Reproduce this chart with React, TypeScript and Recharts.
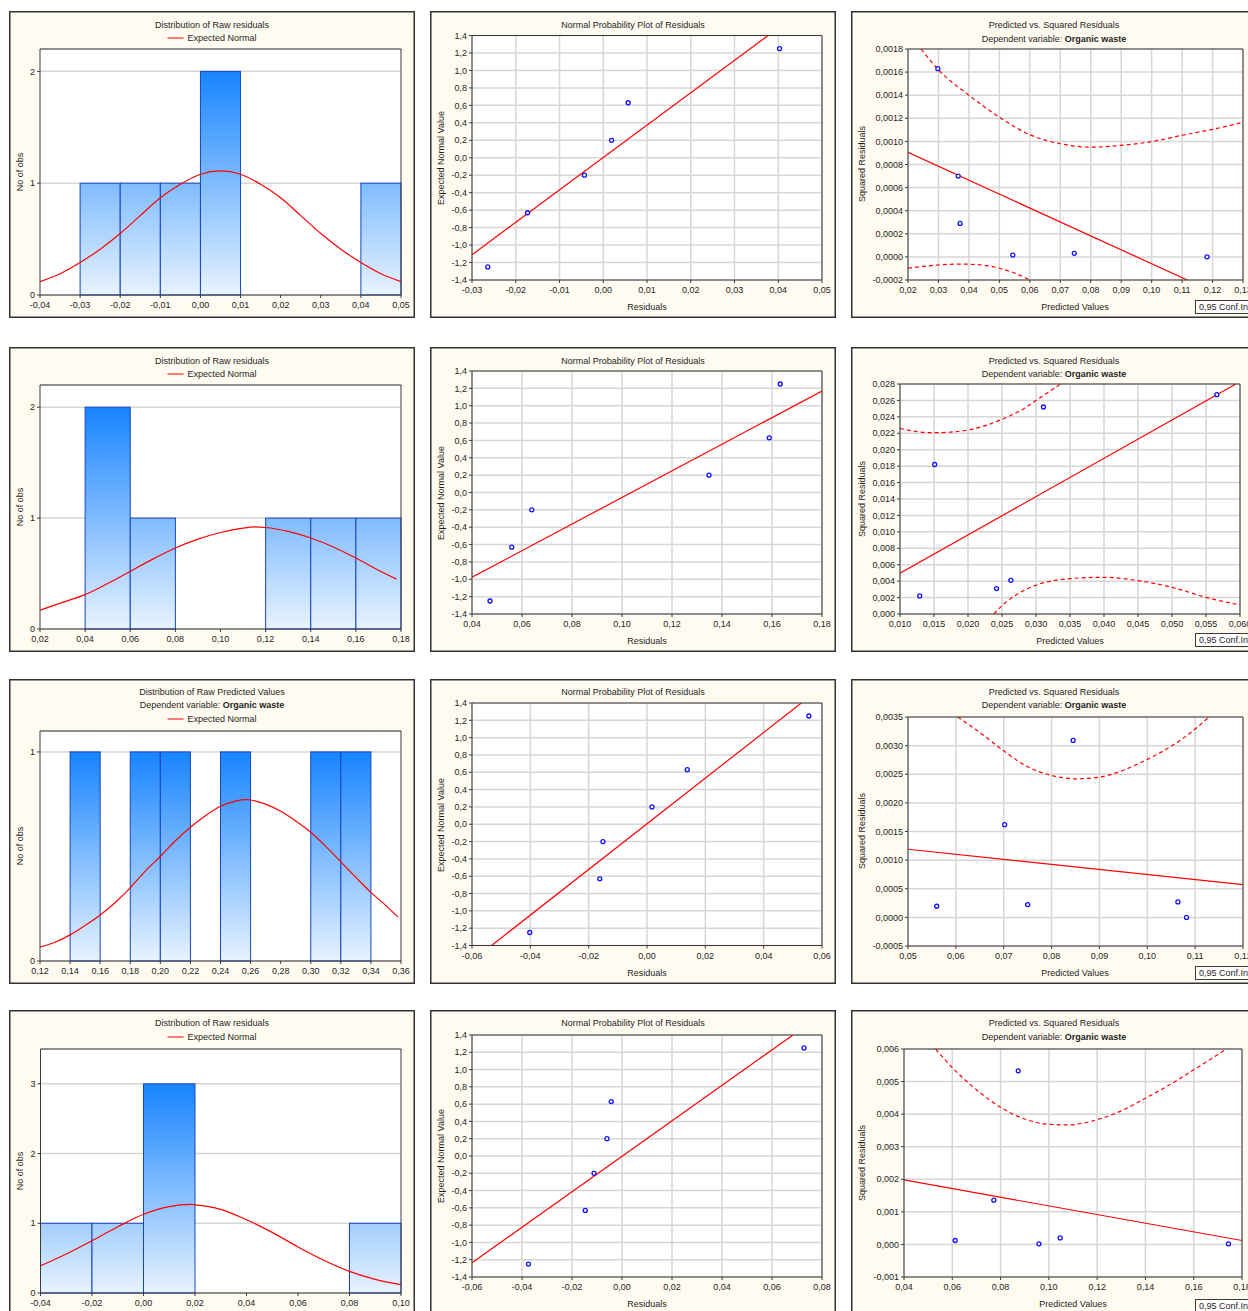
import React from "react";
import { ComposedChart, XAxis, YAxis, CartesianGrid, Line, Scatter, ReferenceArea } from "recharts";

const FONT = '"Liberation Sans", Arial, Helvetica, sans-serif';
const PW = 406;
const CREAM = "#fffbf0";
const RED = "#ff0000";
const GRID = "#d6d6d6";
const AXL = { stroke: "#3a3a3a", strokeWidth: 1 };
const TICK = { fontSize: 9, fill: "#1e1e1e", fontFamily: FONT };

// ---------- histograms (column 1) ----------
const h1Bins = [
  { lo: -0.03, hi: -0.02, n: 1 },
  { lo: -0.02, hi: -0.01, n: 1 },
  { lo: -0.01, hi: 0.0, n: 1 },
  { lo: 0.0, hi: 0.01, n: 2 },
  { lo: 0.04, hi: 0.05, n: 1 },
];
const h1Curve = [
  { x: -0.04, y: 0.12 }, { x: -0.035, y: 0.19 }, { x: -0.03, y: 0.29 }, { x: -0.025, y: 0.41 },
  { x: -0.02, y: 0.55 }, { x: -0.015, y: 0.71 }, { x: -0.01, y: 0.87 }, { x: -0.005, y: 0.99 },
  { x: 0.0, y: 1.08 }, { x: 0.005, y: 1.11 }, { x: 0.01, y: 1.08 }, { x: 0.015, y: 0.99 },
  { x: 0.02, y: 0.87 }, { x: 0.025, y: 0.71 }, { x: 0.03, y: 0.55 }, { x: 0.035, y: 0.41 },
  { x: 0.04, y: 0.29 }, { x: 0.045, y: 0.19 }, { x: 0.05, y: 0.12 },
];
const h1XTicks = [-0.04, -0.03, -0.02, -0.01, 0, 0.01, 0.02, 0.03, 0.04, 0.05];
const h1YTicks = [0, 1, 2];

const h2Bins = [
  { lo: 0.04, hi: 0.06, n: 2 },
  { lo: 0.06, hi: 0.08, n: 1 },
  { lo: 0.12, hi: 0.14, n: 1 },
  { lo: 0.14, hi: 0.16, n: 1 },
  { lo: 0.16, hi: 0.18, n: 1 },
];
const h2Curve = [
  { x: 0.02, y: 0.17 }, { x: 0.03, y: 0.24 }, { x: 0.04, y: 0.31 }, { x: 0.05, y: 0.41 },
  { x: 0.06, y: 0.52 }, { x: 0.07, y: 0.63 }, { x: 0.08, y: 0.73 }, { x: 0.09, y: 0.81 },
  { x: 0.1, y: 0.87 }, { x: 0.11, y: 0.91 }, { x: 0.115, y: 0.92 }, { x: 0.12, y: 0.915 },
  { x: 0.13, y: 0.88 }, { x: 0.14, y: 0.82 }, { x: 0.15, y: 0.74 }, { x: 0.16, y: 0.64 },
  { x: 0.17, y: 0.53 }, { x: 0.178, y: 0.45 },
];
const h2XTicks = [0.02, 0.04, 0.06, 0.08, 0.1, 0.12, 0.14, 0.16, 0.18];
const h2YTicks = [0, 1, 2];

const h3Bins = [
  { lo: 0.14, hi: 0.16, n: 1 },
  { lo: 0.18, hi: 0.2, n: 1 },
  { lo: 0.2, hi: 0.22, n: 1 },
  { lo: 0.24, hi: 0.26, n: 1 },
  { lo: 0.3, hi: 0.32, n: 1 },
  { lo: 0.32, hi: 0.34, n: 1 },
];
const h3Curve = [
  { x: 0.12, y: 0.067 }, { x: 0.13, y: 0.09 }, { x: 0.14, y: 0.125 }, { x: 0.15, y: 0.17 },
  { x: 0.16, y: 0.22 }, { x: 0.17, y: 0.28 }, { x: 0.18, y: 0.35 }, { x: 0.19, y: 0.43 },
  { x: 0.2, y: 0.5 }, { x: 0.21, y: 0.575 }, { x: 0.22, y: 0.64 }, { x: 0.23, y: 0.695 },
  { x: 0.24, y: 0.74 }, { x: 0.25, y: 0.765 }, { x: 0.257, y: 0.772 }, { x: 0.26, y: 0.77 },
  { x: 0.27, y: 0.75 }, { x: 0.28, y: 0.716 }, { x: 0.29, y: 0.67 }, { x: 0.3, y: 0.616 },
  { x: 0.31, y: 0.548 }, { x: 0.32, y: 0.474 }, { x: 0.33, y: 0.4 }, { x: 0.34, y: 0.328 },
  { x: 0.35, y: 0.265 }, { x: 0.358, y: 0.21 },
];
const h3XTicks = [0.12, 0.14, 0.16, 0.18, 0.2, 0.22, 0.24, 0.26, 0.28, 0.3, 0.32, 0.34, 0.36];
const h3YTicks = [0, 1];

const h4Bins = [
  { lo: -0.04, hi: -0.02, n: 1 },
  { lo: -0.02, hi: 0.0, n: 1 },
  { lo: 0.0, hi: 0.02, n: 3 },
  { lo: 0.08, hi: 0.1, n: 1 },
];
const h4Curve = [
  { x: -0.04, y: 0.39 }, { x: -0.03, y: 0.56 }, { x: -0.02, y: 0.75 }, { x: -0.01, y: 0.95 },
  { x: 0.0, y: 1.13 }, { x: 0.01, y: 1.24 }, { x: 0.018, y: 1.27 }, { x: 0.02, y: 1.265 },
  { x: 0.03, y: 1.2 }, { x: 0.04, y: 1.05 }, { x: 0.05, y: 0.87 }, { x: 0.06, y: 0.66 },
  { x: 0.07, y: 0.47 }, { x: 0.08, y: 0.31 }, { x: 0.09, y: 0.195 }, { x: 0.1, y: 0.12 },
];
const h4XTicks = [-0.04, -0.02, 0, 0.02, 0.04, 0.06, 0.08, 0.1];
const h4YTicks = [0, 1, 2, 3];

// ---------- normal probability plots (column 2) ----------
const npYTicks = [-1.4, -1.2, -1.0, -0.8, -0.6, -0.4, -0.2, 0, 0.2, 0.4, 0.6, 0.8, 1.0, 1.2, 1.4];

const n1Points = [
  { x: -0.0264, y: -1.25 }, { x: -0.0173, y: -0.63 }, { x: -0.0043, y: -0.2 },
  { x: 0.0019, y: 0.2 }, { x: 0.0057, y: 0.63 }, { x: 0.0403, y: 1.25 },
];
const n1Fit = [{ x: -0.03, y: -1.11 }, { x: 0.0377, y: 1.4 }];
const n1XTicks = [-0.03, -0.02, -0.01, 0, 0.01, 0.02, 0.03, 0.04, 0.05];

const n2Points = [
  { x: 0.0472, y: -1.25 }, { x: 0.0559, y: -0.63 }, { x: 0.0639, y: -0.2 },
  { x: 0.1348, y: 0.2 }, { x: 0.1589, y: 0.63 }, { x: 0.1633, y: 1.25 },
];
const n2Fit = [{ x: 0.04, y: -0.977 }, { x: 0.18, y: 1.169 }];
const n2XTicks = [0.04, 0.06, 0.08, 0.1, 0.12, 0.14, 0.16, 0.18];

const n3Points = [
  { x: -0.0402, y: -1.25 }, { x: -0.0162, y: -0.63 }, { x: -0.0151, y: -0.2 },
  { x: 0.0017, y: 0.2 }, { x: 0.0138, y: 0.63 }, { x: 0.0555, y: 1.25 },
];
const n3Fit = [{ x: -0.0533, y: -1.4 }, { x: 0.0529, y: 1.4 }];
const n3XTicks = [-0.06, -0.04, -0.02, 0, 0.02, 0.04, 0.06];

const n4Points = [
  { x: -0.0374, y: -1.25 }, { x: -0.0147, y: -0.63 }, { x: -0.0112, y: -0.2 },
  { x: -0.006, y: 0.2 }, { x: -0.0043, y: 0.63 }, { x: 0.0728, y: 1.25 },
];
const n4Fit = [{ x: -0.06, y: -1.235 }, { x: 0.0684, y: 1.4 }];
const n4XTicks = [-0.06, -0.04, -0.02, 0, 0.02, 0.04, 0.06, 0.08];

// ---------- predicted vs squared residuals (column 3) ----------
const s1Points = [
  { x: 0.0298, y: 0.00163 }, { x: 0.0365, y: 0.0007 }, { x: 0.0371, y: 0.00029 },
  { x: 0.0544, y: 0.000016 }, { x: 0.0746, y: 0.000031 }, { x: 0.1182, y: 0.000001 },
];
const s1Fit = [{ x: 0.02, y: 0.000905 }, { x: 0.1117, y: -0.0002 }];
const s1Upper = [
  { x: 0.0243, y: 0.0018 }, { x: 0.03, y: 0.00162 }, { x: 0.04, y: 0.0014 }, { x: 0.05, y: 0.00121 },
  { x: 0.06, y: 0.001058 }, { x: 0.07, y: 0.00098 }, { x: 0.08, y: 0.00095 }, { x: 0.09, y: 0.000966 },
  { x: 0.1, y: 0.000998 }, { x: 0.11, y: 0.001053 }, { x: 0.12, y: 0.001104 }, { x: 0.13, y: 0.001165 },
];
const s1Lower = [
  { x: 0.02, y: -0.000097 }, { x: 0.025, y: -0.000082 }, { x: 0.03, y: -0.00007 },
  { x: 0.037, y: -0.000062 }, { x: 0.045, y: -0.000072 }, { x: 0.05, y: -0.000098 },
  { x: 0.055, y: -0.00014 }, { x: 0.06, y: -0.0002 },
];
const s1XTicks = [0.02, 0.03, 0.04, 0.05, 0.06, 0.07, 0.08, 0.09, 0.1, 0.11, 0.12, 0.13];
const s1YTicks = [-0.0002, 0, 0.0002, 0.0004, 0.0006, 0.0008, 0.001, 0.0012, 0.0014, 0.0016, 0.0018];

const s2Points = [
  { x: 0.0129, y: 0.0022 }, { x: 0.0151, y: 0.0182 }, { x: 0.0242, y: 0.0031 },
  { x: 0.0263, y: 0.0041 }, { x: 0.0311, y: 0.0252 }, { x: 0.0566, y: 0.0267 },
];
const s2Fit = [{ x: 0.01, y: 0.00496 }, { x: 0.0594, y: 0.028 }];
const s2Upper = [
  { x: 0.01, y: 0.0226 }, { x: 0.0125, y: 0.0222 }, { x: 0.015, y: 0.02207 }, { x: 0.0175, y: 0.02215 },
  { x: 0.02, y: 0.0224 }, { x: 0.025, y: 0.0237 }, { x: 0.0282, y: 0.025 }, { x: 0.03, y: 0.026 },
  { x: 0.0322, y: 0.0272 }, { x: 0.0336, y: 0.028 },
];
const s2Lower = [
  { x: 0.0238, y: 0 }, { x: 0.025, y: 0.00102 }, { x: 0.0282, y: 0.00285 }, { x: 0.03, y: 0.0035 },
  { x: 0.035, y: 0.00431 }, { x: 0.04, y: 0.00447 }, { x: 0.045, y: 0.00407 }, { x: 0.05, y: 0.00325 },
  { x: 0.055, y: 0.00203 }, { x: 0.06, y: 0.0011 },
];
const s2XTicks = [0.01, 0.015, 0.02, 0.025, 0.03, 0.035, 0.04, 0.045, 0.05, 0.055, 0.06];
const s2YTicks = [0, 0.002, 0.004, 0.006, 0.008, 0.01, 0.012, 0.014, 0.016, 0.018, 0.02, 0.022, 0.024, 0.026, 0.028];

const s3Points = [
  { x: 0.056, y: 0.000194 }, { x: 0.0702, y: 0.00162 }, { x: 0.075, y: 0.000223 },
  { x: 0.0845, y: 0.00309 }, { x: 0.1064, y: 0.00027 }, { x: 0.1082, y: 0.0 },
];
const s3Fit = [{ x: 0.05, y: 0.00119 }, { x: 0.12, y: 0.000572 }];
const s3Upper = [
  { x: 0.0604, y: 0.0035 }, { x: 0.065, y: 0.00323 }, { x: 0.07, y: 0.00291 }, { x: 0.075, y: 0.00263 },
  { x: 0.08, y: 0.00248 }, { x: 0.085, y: 0.00242 }, { x: 0.09, y: 0.00245 }, { x: 0.095, y: 0.00257 },
  { x: 0.1, y: 0.00276 }, { x: 0.105, y: 0.00299 }, { x: 0.11, y: 0.00329 }, { x: 0.1129, y: 0.0035 },
];
const s3XTicks = [0.05, 0.06, 0.07, 0.08, 0.09, 0.1, 0.11, 0.12];
const s3YTicks = [-0.0005, 0, 0.0005, 0.001, 0.0015, 0.002, 0.0025, 0.003, 0.0035];

const s4Points = [
  { x: 0.0612, y: 0.00012 }, { x: 0.0772, y: 0.00136 }, { x: 0.0873, y: 0.00533 },
  { x: 0.0959, y: 0.00002 }, { x: 0.1047, y: 0.0002 }, { x: 0.1744, y: 0.00002 },
];
const s4Fit = [{ x: 0.04, y: 0.00198 }, { x: 0.18, y: 0.00012 }];
const s4Upper = [
  { x: 0.0531, y: 0.006 }, { x: 0.06, y: 0.00543 }, { x: 0.07, y: 0.00475 }, { x: 0.08, y: 0.00421 },
  { x: 0.09, y: 0.00385 }, { x: 0.1, y: 0.00369 }, { x: 0.108, y: 0.00367 }, { x: 0.12, y: 0.00383 },
  { x: 0.13, y: 0.0041 }, { x: 0.14, y: 0.00449 }, { x: 0.15, y: 0.0049 }, { x: 0.16, y: 0.00536 },
  { x: 0.1736, y: 0.006 },
];
const s4XTicks = [0.04, 0.06, 0.08, 0.1, 0.12, 0.14, 0.16, 0.18];
const s4YTicks = [-0.001, 0, 0.001, 0.002, 0.003, 0.004, 0.005, 0.006];

// ---------- helpers ----------
const dec = (d: number) => (v: number) => v.toFixed(d).replace(".", ",");

const ring = (p: any) => (
  <circle cx={p.cx} cy={p.cy} r={2} fill="#fff" stroke="#1010ff" strokeWidth={1.3} />
);

function gradShape(id: string, n: number, maxN: number) {
  return (p: any) => {
    const { x, y, width, height } = p;
    const bottom = y + height;
    const top = bottom - (height / n) * maxN;
    return (
      <g>
        <defs>
          <linearGradient id={id} gradientUnits="userSpaceOnUse" x1={0} y1={top} x2={0} y2={bottom}>
            <stop offset="0" stopColor="#1784ff" />
            <stop offset="1" stopColor="#e8f3ff" />
          </linearGradient>
        </defs>
        <rect x={x} y={y} width={width} height={height} fill={`url(#${id})`} stroke="#1746c0" strokeWidth={1} />
      </g>
    );
  };
}

// grid, bottom/left axes with labels, and mirrored top/right axes that close the plot frame
function frame(h: number, box: any, xd: number[], xt: number[], xf: any, yd: number[], yt: number[], yf: any, vGrid: boolean) {
  return [
    <CartesianGrid key="g" fill="#fff" stroke={GRID} strokeWidth={1.5} vertical={vGrid} />,
    <XAxis key="xb" type="number" dataKey="x" domain={xd} ticks={xt} tickFormatter={xf} interval={0}
      allowDataOverflow height={h - box.b} tickSize={3} tickMargin={4} tick={TICK} axisLine={AXL} tickLine={AXL} />,
    <YAxis key="yl" type="number" dataKey="y" domain={yd} ticks={yt} tickFormatter={yf} interval={0}
      allowDataOverflow width={box.l} tickSize={3} tick={TICK} axisLine={AXL} tickLine={AXL} />,
    <XAxis key="xt" xAxisId="top" orientation="top" mirror type="number" domain={xd} ticks={xt} interval={0}
      allowDataOverflow height={0.01} tickSize={3} tick={false} axisLine={AXL} tickLine={AXL} />,
    <YAxis key="yr" yAxisId="right" orientation="right" mirror type="number" domain={yd} ticks={yt} interval={0}
      allowDataOverflow width={0.01} tickSize={3} tick={false} axisLine={AXL} tickLine={AXL} />,
  ];
}

function margin(box: any) {
  return { top: box.t, right: PW - box.r, bottom: 0, left: 0 };
}

function Histogram({ id, h, box, bins, curve, xd, xt, yd, yt }: any) {
  const maxN = Math.max(...bins.map((b: any) => b.n));
  return (
    <ComposedChart width={PW} height={h} margin={margin(box)}>
      {frame(h, box, xd, xt, dec(2), yd, yt, dec(0), false)}
      {bins.map((b: any, i: number) => (
        <ReferenceArea key={`b${i}`} x1={b.lo} x2={b.hi} y1={0} y2={b.n} ifOverflow="visible"
          shape={gradShape(`${id}-${i}`, b.n, maxN)} />
      ))}
      <Line data={curve} dataKey="y" type="monotone" stroke={RED} strokeWidth={1.2} dot={false}
        activeDot={false} isAnimationActive={false} />
    </ComposedChart>
  );
}

function ProbPlot({ h, box, points, fit, xd, xt }: any) {
  return (
    <ComposedChart width={PW} height={h} margin={margin(box)}>
      {frame(h, box, xd, xt, dec(2), [-1.4, 1.4], npYTicks, dec(1), true)}
      <Line data={fit} dataKey="y" type="linear" stroke={RED} strokeWidth={1.2} dot={false}
        activeDot={false} isAnimationActive={false} />
      <Scatter data={points} dataKey="y" shape={ring} isAnimationActive={false} />
    </ComposedChart>
  );
}

function SqPlot({ h, box, points, fit, upper, lower, xd, xt, xDec, yd, yt, yDec }: any) {
  const bands = [upper, lower].filter(Boolean);
  return (
    <ComposedChart width={PW} height={h} margin={margin(box)}>
      {frame(h, box, xd, xt, dec(xDec), yd, yt, dec(yDec), true)}
      <Line data={fit} dataKey="y" type="linear" stroke={RED} strokeWidth={1.2} dot={false}
        activeDot={false} isAnimationActive={false} />
      {bands.map((b: any, i: number) => (
        <Line key={`band${i}`} data={b} dataKey="y" type="monotone" stroke={RED} strokeWidth={1.2}
          strokeDasharray="4 3" dot={false} activeDot={false} isAnimationActive={false} />
      ))}
      <Scatter data={points} dataKey="y" shape={ring} isAnimationActive={false} />
    </ComposedChart>
  );
}

function Panel({ x, y, h, children }: any) {
  return (
    <div style={{ position: "absolute", left: x, top: y, width: PW, height: h, background: CREAM,
      boxShadow: "inset 0 0 0 1.5px #333" }}>
      {children}
    </div>
  );
}

function T({ x, y, rot, children }: any) {
  return (
    <div style={{ position: "absolute", left: x, top: y, whiteSpace: "nowrap", fontSize: 9, lineHeight: 1,
      color: "#1e1e1e", transform: `translate(-50%, -50%)${rot ? " rotate(-90deg)" : ""}` }}>
      {children}
    </div>
  );
}

const NormLegend = ({ y }: any) => (
  <T x={203} y={y}>
    <span style={{ display: "inline-block", width: 16, borderTop: `1.5px solid ${RED}`, verticalAlign: "middle",
      marginRight: 4 }} />
    Expected Normal
  </T>
);

const DepVar = ({ y }: any) => (
  <T x={203} y={y}>Dependent variable: <b>Organic waste</b></T>
);

const ConfBox = ({ y }: any) => (
  <div style={{ position: "absolute", left: 344, top: y, height: 12, padding: "0 3px", border: "1px solid #3a3a3a",
    background: "#fff", fontSize: 9, lineHeight: "12px", whiteSpace: "nowrap", color: "#1e1e1e" }}>
    0,95 Conf.Int.
  </div>
);

export default function App() {
  const cx = [9, 430, 851];
  return (
    <div style={{ position: "absolute", left: 0, top: 0, width: 1248, height: 1311, overflow: "hidden",
      background: "#fff", fontFamily: FONT }}>
      {/* row 1 */}
      <Panel x={cx[0]} y={11} h={307}>
        <Histogram id="h1" h={307} box={{ l: 31, t: 38, r: 392, b: 284 }} bins={h1Bins} curve={h1Curve}
          xd={[-0.04, 0.05]} xt={h1XTicks} yd={[0, 2.2]} yt={h1YTicks} />
        <T x={203} y={13.5}>Distribution of Raw residuals</T>
        <NormLegend y={27} />
        <T x={11} y={161} rot>No of obs</T>
      </Panel>
      <Panel x={cx[1]} y={11} h={307}>
        <ProbPlot h={307} box={{ l: 42, t: 24.5, r: 392, b: 269 }} points={n1Points} fit={n1Fit}
          xd={[-0.03, 0.05]} xt={n1XTicks} />
        <T x={203} y={13.5}>Normal Probability Plot of Residuals</T>
        <T x={11} y={147} rot>Expected Normal Value</T>
        <T x={217} y={296}>Residuals</T>
      </Panel>
      <Panel x={cx[2]} y={11} h={307}>
        <SqPlot h={307} box={{ l: 57, t: 38, r: 392, b: 269 }} points={s1Points} fit={s1Fit} upper={s1Upper}
          lower={s1Lower} xd={[0.02, 0.13]} xt={s1XTicks} xDec={2} yd={[-0.0002, 0.0018]} yt={s1YTicks} yDec={4} />
        <T x={203} y={13.5}>Predicted vs. Squared Residuals</T>
        <DepVar y={27.5} />
        <T x={11} y={153} rot>Squared Residuals</T>
        <T x={224} y={296}>Predicted Values</T>
        <ConfBox y={289} />
      </Panel>

      {/* row 2 */}
      <Panel x={cx[0]} y={347} h={305}>
        <Histogram id="h2" h={305} box={{ l: 31, t: 38, r: 392, b: 282 }} bins={h2Bins} curve={h2Curve}
          xd={[0.02, 0.18]} xt={h2XTicks} yd={[0, 2.2]} yt={h2YTicks} />
        <T x={203} y={13.5}>Distribution of Raw residuals</T>
        <NormLegend y={26.5} />
        <T x={11} y={160} rot>No of obs</T>
      </Panel>
      <Panel x={cx[1]} y={347} h={305}>
        <ProbPlot h={305} box={{ l: 42, t: 24, r: 392, b: 267 }} points={n2Points} fit={n2Fit}
          xd={[0.04, 0.18]} xt={n2XTicks} />
        <T x={203} y={13.5}>Normal Probability Plot of Residuals</T>
        <T x={11} y={146} rot>Expected Normal Value</T>
        <T x={217} y={293.5}>Residuals</T>
      </Panel>
      <Panel x={cx[2]} y={347} h={305}>
        <SqPlot h={305} box={{ l: 49, t: 37, r: 389, b: 267 }} points={s2Points} fit={s2Fit} upper={s2Upper}
          lower={s2Lower} xd={[0.01, 0.06]} xt={s2XTicks} xDec={3} yd={[0, 0.028]} yt={s2YTicks} yDec={3} />
        <T x={203} y={13.5}>Predicted vs. Squared Residuals</T>
        <DepVar y={26.5} />
        <T x={11} y={152} rot>Squared Residuals</T>
        <T x={219} y={293.5}>Predicted Values</T>
        <ConfBox y={286} />
      </Panel>

      {/* row 3 */}
      <Panel x={cx[0]} y={679} h={305}>
        <Histogram id="h3" h={305} box={{ l: 31, t: 52, r: 392, b: 282 }} bins={h3Bins} curve={h3Curve}
          xd={[0.12, 0.36]} xt={h3XTicks} yd={[0, 1.1]} yt={h3YTicks} />
        <T x={203} y={12.5}>Distribution of Raw Predicted Values</T>
        <DepVar y={26} />
        <NormLegend y={40} />
        <T x={11} y={167} rot>No of obs</T>
      </Panel>
      <Panel x={cx[1]} y={679} h={305}>
        <ProbPlot h={305} box={{ l: 42, t: 24, r: 392, b: 266.5 }} points={n3Points} fit={n3Fit}
          xd={[-0.06, 0.06]} xt={n3XTicks} />
        <T x={203} y={12.5}>Normal Probability Plot of Residuals</T>
        <T x={11} y={146} rot>Expected Normal Value</T>
        <T x={217} y={293.5}>Residuals</T>
      </Panel>
      <Panel x={cx[2]} y={679} h={305}>
        <SqPlot h={305} box={{ l: 57, t: 38, r: 392, b: 267 }} points={s3Points} fit={s3Fit} upper={s3Upper}
          xd={[0.05, 0.12]} xt={s3XTicks} xDec={2} yd={[-0.0005, 0.0035]} yt={s3YTicks} yDec={4} />
        <T x={203} y={12.5}>Predicted vs. Squared Residuals</T>
        <DepVar y={26} />
        <T x={11} y={152} rot>Squared Residuals</T>
        <T x={224} y={293.5}>Predicted Values</T>
        <ConfBox y={287} />
      </Panel>

      {/* row 4 */}
      <Panel x={cx[0]} y={1010} h={312}>
        <Histogram id="h4" h={312} box={{ l: 31.5, t: 39, r: 392, b: 283 }} bins={h4Bins} curve={h4Curve}
          xd={[-0.04, 0.1]} xt={h4XTicks} yd={[0, 3.5]} yt={h4YTicks} />
        <T x={203} y={13}>Distribution of Raw residuals</T>
        <NormLegend y={27} />
        <T x={11} y={161} rot>No of obs</T>
      </Panel>
      <Panel x={cx[1]} y={1010} h={312}>
        <ProbPlot h={312} box={{ l: 42, t: 25, r: 392, b: 267 }} points={n4Points} fit={n4Fit}
          xd={[-0.06, 0.08]} xt={n4XTicks} />
        <T x={203} y={13}>Normal Probability Plot of Residuals</T>
        <T x={11} y={146} rot>Expected Normal Value</T>
        <T x={217} y={294}>Residuals</T>
      </Panel>
      <Panel x={cx[2]} y={1010} h={312}>
        <SqPlot h={312} box={{ l: 53, t: 39, r: 391, b: 267 }} points={s4Points} fit={s4Fit} upper={s4Upper}
          xd={[0.04, 0.18]} xt={s4XTicks} xDec={2} yd={[-0.001, 0.006]} yt={s4YTicks} yDec={3} />
        <T x={203} y={13}>Predicted vs. Squared Residuals</T>
        <DepVar y={27} />
        <T x={11} y={153} rot>Squared Residuals</T>
        <T x={222} y={294}>Predicted Values</T>
        <ConfBox y={289} />
      </Panel>
    </div>
  );
}
